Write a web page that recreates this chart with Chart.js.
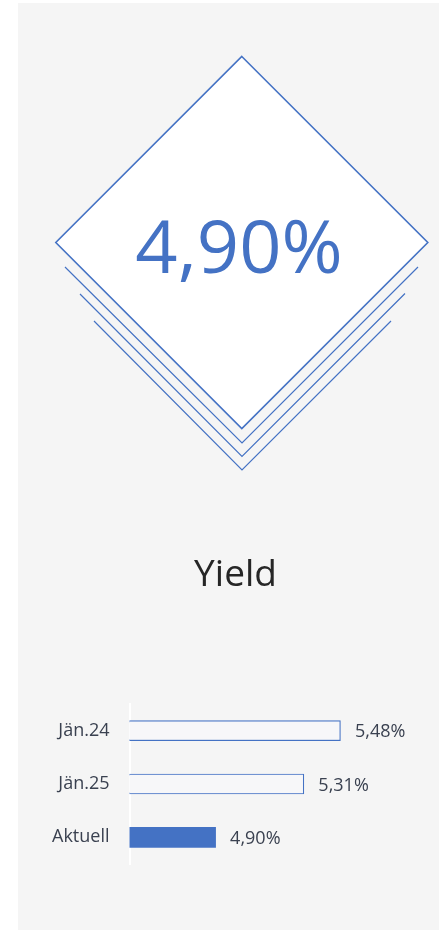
<!DOCTYPE html>
<html>
<head>
<meta charset="utf-8">
<script src="https://cdn.jsdelivr.net/npm/chart.js@4/dist/chart.umd.min.js"></script>
<style>
  html, body { margin: 0; padding: 0; background: #ffffff; }
  #wrap { position: absolute; left: 0; top: 0; width: 439px; height: 930px; }
</style>
</head>
<body>
<div id="wrap"><canvas id="c" width="439" height="930"></canvas></div>
<script>
// ---- data ----
const categories = ['Jän.24', 'Jän.25', 'Aktuell'];
const yieldValues = [5.48, 5.31, 4.90];
const valueLabels = ['5,48%', '5,31%', '4,90%'];
const headlineValue = '4,90%';
const titleText = 'Yield';

const BLUE = '#4472C4';
const TEXT = '#3A4150';
const PANEL = '#F5F5F5';

const decorPlugin = {
  id: 'decor',
  beforeDraw(chart) {
    const ctx = chart.ctx;
    ctx.save();
    ctx.fillStyle = '#ffffff';
    ctx.fillRect(0, 0, chart.width, chart.height);
    ctx.fillStyle = PANEL;
    ctx.fillRect(18, 3, chart.width - 18, chart.height - 3);

    // chevrons under the diamond
    ctx.strokeStyle = BLUE;
    ctx.lineWidth = 1.2;
    const chev = [[65, 267, 418, 443], [80, 294, 405, 456.5], [94, 321, 391, 470]];
    chev.forEach(([xl, yl, xr, yv]) => {
      ctx.beginPath();
      ctx.moveTo(xl, yl);
      ctx.lineTo(242, yv);
      ctx.lineTo(xr, yv - (xr - 242));
      ctx.stroke();
    });

    // diamond
    const cx = 241.8, cy = 242.5, h = 186;
    ctx.beginPath();
    ctx.moveTo(cx, cy - h);
    ctx.lineTo(cx + h, cy);
    ctx.lineTo(cx, cy + h);
    ctx.lineTo(cx - h, cy);
    ctx.closePath();
    ctx.fillStyle = '#ffffff';
    ctx.fill();
    ctx.lineWidth = 1.6;
    ctx.stroke();

    // headline value
    ctx.fillStyle = BLUE;
    ctx.font = '74px "Open Sans"';
    ctx.textAlign = 'center';
    ctx.textBaseline = 'alphabetic';
    ctx.fillText(headlineValue, 239, 272.5);

    // title
    ctx.fillStyle = '#262626';
    ctx.font = '37px "Open Sans"';
    ctx.fillText(titleText, 235.5, 585.5);
    ctx.restore();
  },
  afterDatasetsDraw(chart) {
    const ctx = chart.ctx;
    const meta = chart.getDatasetMeta(0);
    ctx.save();
    ctx.fillStyle = TEXT;
    ctx.font = '18px "Open Sans"';
    ctx.textAlign = 'left';
    ctx.textBaseline = 'middle';
    meta.data.forEach((bar, i) => {
      ctx.fillText(valueLabels[i], bar.x + 14.5, bar.y + 1.5);
    });
    ctx.restore();
  }
};

new Chart(document.getElementById('c'), {
  type: 'bar',
  data: {
    labels: categories,
    datasets: [{
      data: yieldValues,
      backgroundColor: ['#F7F7F9', '#F7F7F9', BLUE],
      borderColor: BLUE,
      borderWidth: [1.2, 1.2, 0],
      borderSkipped: 'start',
      barThickness: 20
    }]
  },
  options: {
    indexAxis: 'y',
    responsive: false,
    animation: false,
    events: [],
    layout: { padding: { top: 704, bottom: 66, left: 0, right: 6 } },
    plugins: { legend: { display: false }, tooltip: { enabled: false } },
    scales: {
      x: { type: 'linear', min: 4.5, max: 5.91, display: false },
      y: {
        grid: { display: false, drawTicks: false },
        border: { display: true, color: '#ffffff', width: 2 },
        ticks: { color: TEXT, font: { family: 'Open Sans', size: 18 }, padding: 20 },
        afterFit(scale) { scale.width = 129.5; }
      }
    }
  },
  plugins: [decorPlugin]
});
</script>
</body>
</html>
